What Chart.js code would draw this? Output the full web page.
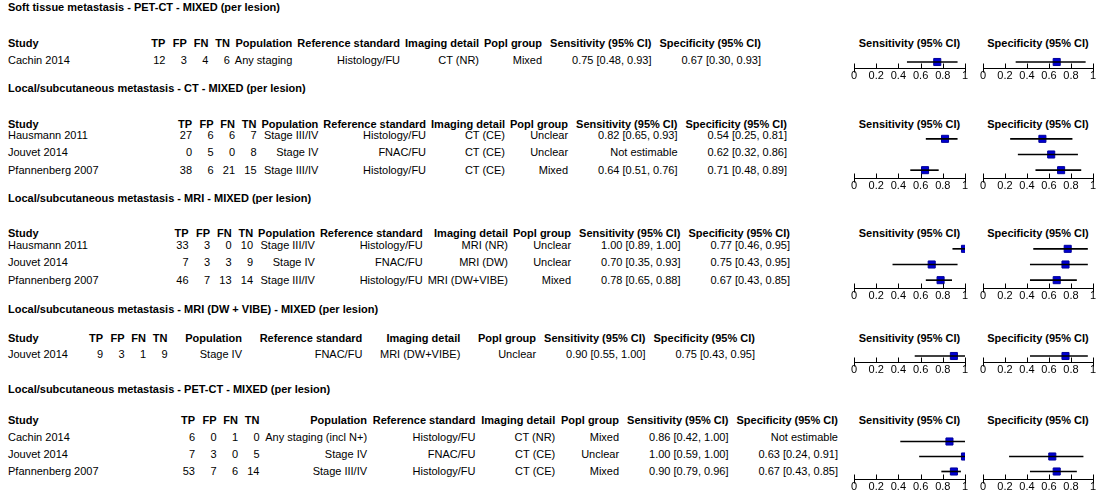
<!DOCTYPE html>
<html>
<head>
<meta charset="utf-8">
<script src="https://cdn.jsdelivr.net/npm/chart.js@4.4.0/dist/chart.umd.min.js"></script>
<style>
  body { margin: 0; width: 1099px; height: 491px; overflow: hidden; position: relative; background: #fff;
         font-family: "Liberation Sans", Arial, sans-serif; font-size: 11px; color: #000; }
  .t { position: absolute; white-space: nowrap; line-height: 13px; }
  .b { font-weight: bold; }
  canvas { position: absolute; }
</style>
</head>
<body>
<script>
// ---- data ----
const titles = [
  "Soft tissue metastasis - PET-CT - MIXED (per lesion)",
  "Local/subcutaneous metastasis - CT - MIXED (per lesion)",
  "Local/subcutaneous metastasis - MRI - MIXED (per lesion)",
  "Local/subcutaneous metastasis - MRI (DW + VIBE) - MIXED (per lesion)",
  "Local/subcutaneous metastasis - PET-CT - MIXED (per lesion)"
]
const studies = [
  ["Cachin 2014"],
  ["Hausmann 2011", "Jouvet 2014", "Pfannenberg 2007"],
  ["Hausmann 2011", "Jouvet 2014", "Pfannenberg 2007"],
  ["Jouvet 2014"],
  ["Cachin 2014", "Jouvet 2014", "Pfannenberg 2007"]
]
const tp = [[12], [27, 0, 38], [33, 7, 46], [9], [6, 7, 53]]
const fp = [[3], [6, 5, 6], [3, 3, 7], [3], [0, 3, 7]]
const fn = [[4], [6, 0, 21], [0, 3, 13], [1], [1, 0, 6]]
const tn = [[6], [7, 8, 15], [10, 9, 14], [9], [0, 5, 14]]
const population = [
  ["Any staging"],
  ["Stage III/IV", "Stage IV", "Stage III/IV"],
  ["Stage III/IV", "Stage IV", "Stage III/IV"],
  ["Stage IV"],
  ["Any staging (incl N+)", "Stage IV", "Stage III/IV"]
]
const refStandard = [
  ["Histology/FU"],
  ["Histology/FU", "FNAC/FU", "Histology/FU"],
  ["Histology/FU", "FNAC/FU", "Histology/FU"],
  ["FNAC/FU"],
  ["Histology/FU", "FNAC/FU", "Histology/FU"]
]
const imaging = [
  ["CT (NR)"],
  ["CT (CE)", "CT (CE)", "CT (CE)"],
  ["MRI (NR)", "MRI (DW)", "MRI (DW+VIBE)"],
  ["MRI (DW+VIBE)"],
  ["CT (NR)", "CT (CE)", "CT (CE)"]
]
const poplGroup = [
  ["Mixed"],
  ["Unclear", "Unclear", "Mixed"],
  ["Unclear", "Unclear", "Mixed"],
  ["Unclear"],
  ["Mixed", "Unclear", "Mixed"]
]
const sens = [[0.75], [0.82, null, 0.64], [1.00, 0.70, 0.78], [0.90], [0.86, 1.00, 0.90]]
const sensLo = [[0.48], [0.65, null, 0.51], [0.89, 0.35, 0.65], [0.55], [0.42, 0.59, 0.79]]
const sensHi = [[0.93], [0.93, null, 0.76], [1.00, 0.93, 0.88], [1.00], [1.00, 1.00, 0.96]]
const spec = [[0.67], [0.54, 0.62, 0.71], [0.77, 0.75, 0.67], [0.75], [null, 0.63, 0.67]]
const specLo = [[0.30], [0.25, 0.32, 0.48], [0.46, 0.43, 0.43], [0.43], [null, 0.24, 0.43]]
const specHi = [[0.93], [0.81, 0.86, 0.89], [0.95, 0.95, 0.85], [0.95], [null, 0.91, 0.85]]
const axisTicks = [0, 0.2, 0.4, 0.6, 0.8, 1]

// ---- layout ----
const FONT = '"Liberation Sans", Arial, sans-serif'
const titleY = [7, 88, 198, 309, 389]
const headY = [43, 124, 233, 338, 420]
const rowY = [60, 135, 245, 354, 437]
const rowStep = [17.5, 17.5, 17.5, 17.5, 17]
const tpRight = [175, 195, 195, 103, 195]   // wanted right edge of the TP column
const specRight = [761, 787, 790, 755, 838] // right edge of the Specificity column
const numStep = 21.5
const rightGap = 8
const minGap = 5
const sensPanel = [854, 965]
const specPanel = [983, 1093]
const pad = 8
const axisH = 18

const mctx = document.createElement("canvas").getContext("2d")
function textWidth(s, bold) {
  mctx.font = (bold ? "bold " : "") + "11px " + FONT
  return mctx.measureText(s).width
}

function addText(s, x, y, opts = {}) {
  const d = document.createElement("div")
  d.className = "t" + (opts.bold ? " b" : "")
  d.textContent = s
  d.style.top = (y - 6.5) + "px"
  if (opts.align === "right") d.style.right = (1099 - x) + "px"
  else if (opts.align === "center") { d.style.left = (x - 100) + "px"; d.style.width = "200px"; d.style.textAlign = "center" }
  else d.style.left = x + "px"
  document.body.appendChild(d)
}

function ciText(v, lo, hi) {
  if (v == null) return "Not estimable"
  return v.toFixed(2) + " [" + lo.toFixed(2) + ", " + hi.toFixed(2) + "]"
}

// small tick marks pointing up from the axis line, end ticks crossing it
const tickMarks = {
  id: "tickMarks",
  afterDraw(chart) {
    const sx = chart.scales.x
    const ctx = chart.ctx
    const y0 = Math.round(chart.chartArea.bottom) + 0.5
    ctx.save()
    ctx.strokeStyle = "#000"
    ctx.lineWidth = 1
    ctx.beginPath()
    axisTicks.forEach((v, i) => {
      const px = Math.round(sx.getPixelForValue(v)) + 0.5
      const end = i === 0 || i === axisTicks.length - 1
      ctx.moveTo(px, y0 - 5)
      ctx.lineTo(px, y0 + (end ? 4 : 0))
    })
    ctx.stroke()
    ctx.restore()
  }
}

function forest(panel, top, step, labels, est, lo, hi) {
  const canvas = document.createElement("canvas")
  const w = panel[1] - panel[0] + pad * 2
  const h = Math.round(labels.length * step) + axisH
  canvas.width = w
  canvas.height = h
  canvas.style.left = (panel[0] - pad) + "px"
  canvas.style.top = top + "px"
  document.body.appendChild(canvas)

  return new Chart(canvas, {
    type: "bar",
    data: {
      labels: labels,
      datasets: [
        {
          type: "bar",
          data: lo.map((l, i) => (l == null ? null : [l, hi[i]])),
          backgroundColor: "#000",
          barThickness: 1,
          grouped: false,
        },
        {
          type: "line",
          data: est,
          showLine: false,
          pointStyle: "rect",
          pointRadius: 5,
          backgroundColor: "#0000d4",
          borderColor: "#00009a",
          borderWidth: 1,
        },
      ],
    },
    options: {
      indexAxis: "y",
      responsive: false,
      animation: false,
      layout: { padding: { left: pad, right: pad, top: 0, bottom: 0 } },
      plugins: { legend: { display: false }, tooltip: { enabled: false } },
      scales: {
        x: {
          type: "linear",
          min: 0,
          max: 1,
          afterBuildTicks: (ax) => { ax.ticks = axisTicks.map((v) => ({ value: v })) },
          afterFit: (ax) => { ax.height = axisH },
          grid: { display: false, drawTicks: false, tickLength: 0 },
          border: { display: true, color: "#000", width: 1 },
          ticks: {
            color: "#000",
            padding: 1,
            maxRotation: 0,
            autoSkip: false,
            font: { family: FONT, size: 11 },
            callback: (v) => String(v),
          },
        },
        y: { type: "category", display: false, offset: true },
      },
    },
    plugins: [tickMarks],
  })
}

titles.forEach((title, s) => {
  addText(title, 8, titleY[s], { bold: true })

  const cols = [
    ["TP", tp[s].map(String)],
    ["FP", fp[s].map(String)],
    ["FN", fn[s].map(String)],
    ["TN", tn[s].map(String)],
    ["Population", population[s]],
    ["Reference standard", refStandard[s]],
    ["Imaging detail", imaging[s]],
    ["Popl group", poplGroup[s]],
    ["Sensitivity (95% CI)", sens[s].map((v, i) => ciText(v, sensLo[s][i], sensHi[s][i]))],
    ["Specificity (95% CI)", spec[s].map((v, i) => ciText(v, specLo[s][i], specHi[s][i]))],
  ]
  const widths = cols.map(([h, vals]) => Math.max(textWidth(h, true), ...vals.map((v) => textWidth(v, false))))

  // right edges: Spec and Sens from the right, the four text columns share what is left
  const rights = new Array(cols.length)
  rights[9] = specRight[s]
  rights[8] = rights[9] - widths[9] - rightGap
  rights[7] = rights[8] - widths[8] - rightGap
  const midW = widths[4] + widths[5] + widths[6] + widths[7]
  let tnRight = tpRight[s] + numStep * 3
  let gap = (rights[7] - tnRight - midW) / 4
  if (gap < minGap) {
    gap = minGap
    tnRight = rights[7] - midW - gap * 4
  }
  for (let c = 0; c < 4; c++) rights[c] = tnRight - numStep * (3 - c)
  rights[4] = tnRight + gap + widths[4]
  rights[5] = rights[4] + gap + widths[5]
  rights[6] = rights[5] + gap + widths[6]

  const step = rowStep[s]
  addText("Study", 8, headY[s], { bold: true })
  studies[s].forEach((st, i) => addText(st, 8, rowY[s] + i * step))

  cols.forEach(([head, vals], c) => {
    addText(head, rights[c], headY[s], { bold: true, align: "right" })
    vals.forEach((v, i) => addText(v, rights[c], rowY[s] + i * step, { align: "right" }))
  })

  addText("Sensitivity (95% CI)", (sensPanel[0] + sensPanel[1]) / 2, headY[s], { bold: true, align: "center" })
  addText("Specificity (95% CI)", (specPanel[0] + specPanel[1]) / 2, headY[s], { bold: true, align: "center" })

  const top = Math.round(rowY[s] - step / 2) - 1
  forest(sensPanel, top, step, studies[s], sens[s], sensLo[s], sensHi[s])
  forest(specPanel, top, step, studies[s], spec[s], specLo[s], specHi[s])
})
</script>
</body>
</html>
